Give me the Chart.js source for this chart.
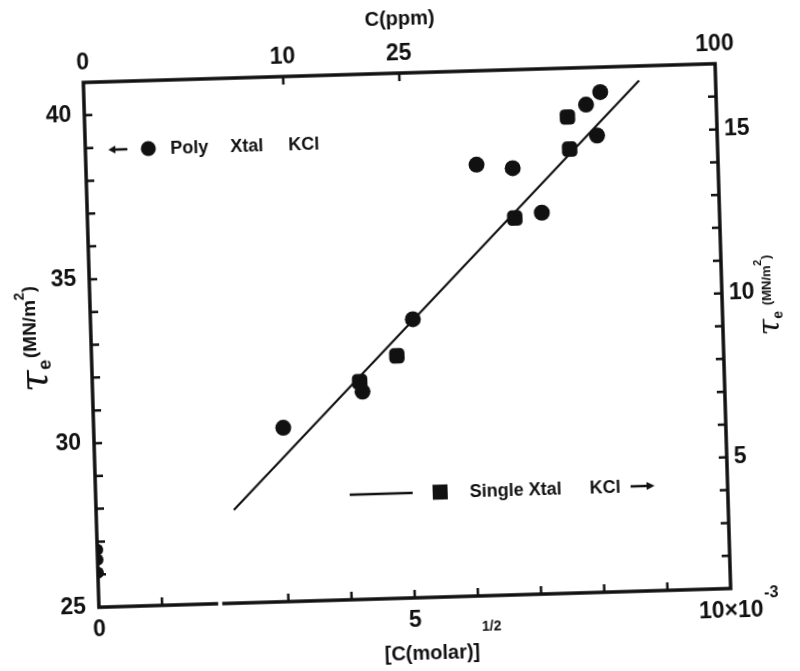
<!DOCTYPE html>
<html><head><meta charset="utf-8">
<script src="https://cdn.jsdelivr.net/npm/chart.js@4/dist/chart.umd.min.js"></script>
<style>
html,body{margin:0;padding:0;background:#fff;overflow:hidden;width:800px;height:671px}
#wrap{position:absolute;left:0;top:0;width:800px;height:671px;transform:rotate(-1.7deg);transform-origin:406.75px 335.25px}
</style></head><body>
<div id="wrap"><canvas id="c" width="800" height="671"></canvas></div>
<script>
// x: [C(molar)]^1/2 in units of 1e-3 ; left axis tau_e (MN/m^2) poly crystal ; right axis single crystal
const polyZeroX = [0, 0, 0];
const polyZeroY = [26.75, 26.45, 26.05];
const polyX = [3.00, 4.27, 5.10, 6.18, 6.75, 7.19, 7.94, 8.10, 8.17];
const polyY = [30.30, 31.33, 33.49, 38.14, 38.00, 36.62, 39.87, 38.92, 40.24];
const singleX = [4.23, 4.83, 6.76, 7.66, 7.64];
const singleY = [7.64, 8.39, 12.48, 14.53, 15.51];
const fitX = [2.18, 8.79];
const fitY = [3.84, 16.56];

const xMin = 0, xMax = 10;
const leftMin = 25, leftMax = 41;
const rightMin = 1, rightMax = 17;
const leftTickLabels = [25, 30, 35, 40];
const rightTickLabels = [5, 10, 15];
const bottomTickValues = [0, 5, 10];
const bottomTickLabels = ['0', '5', '10×10'];
const bottomExponent = '-3';
const topTickPpm = [0, 10, 25, 100];

const pts = (xs, ys) => xs.map((x, i) => ({x, y: ys[i]}));
const INK = '#111';
const FONT = 'Liberation Sans';

function rich(ctx, x, y, rot, segs) {
  ctx.save();
  ctx.translate(x, y);
  ctx.rotate(rot);
  let w = 0;
  segs.forEach(s => { ctx.font = s.font; s.w = ctx.measureText(s.t).width; w += s.w + (s.gap || 0); });
  let cx = -w / 2;
  ctx.textBaseline = 'middle';
  ctx.textAlign = 'left';
  segs.forEach(s => { ctx.font = s.font; ctx.fillText(s.t, cx, s.dy || 0); cx += s.w + (s.gap || 0); });
  ctx.restore();
}

const deco = {
  id: 'deco',
  afterDraw(chart) {
    const {ctx, chartArea: a, scales} = chart;
    const X = scales.x, Y = scales.y, Y2 = scales.y2, XT = scales.x2;
    ctx.save();
    ctx.strokeStyle = INK; ctx.fillStyle = INK;
    // frame with axis break on bottom
    ctx.lineWidth = 3.5; ctx.lineJoin = 'miter'; ctx.lineCap = 'square';
    const gL = X.getPixelForValue(1.86), gR = X.getPixelForValue(1.98);
    ctx.beginPath();
    ctx.moveTo(gL, a.bottom); ctx.lineTo(a.left, a.bottom); ctx.lineTo(a.left, a.top);
    ctx.lineTo(a.right, a.top); ctx.lineTo(a.right, a.bottom); ctx.lineTo(gR, a.bottom);
    ctx.stroke();
    // inward ticks
    ctx.lineWidth = 2.5; ctx.lineCap = 'butt';
    const T = 8;
    ctx.beginPath();
    Y.ticks.forEach(t => { if (t.value > leftMin && t.value < leftMax) { const p = Y.getPixelForValue(t.value); ctx.moveTo(a.left, p); ctx.lineTo(a.left + T, p); } });
    Y2.ticks.forEach(t => { if (t.value > rightMin && t.value < rightMax) { const p = Y2.getPixelForValue(t.value); ctx.moveTo(a.right, p); ctx.lineTo(a.right - T, p); } });
    X.ticks.forEach(t => { if (t.value > xMin && t.value < xMax && t.value !== 2) { const p = X.getPixelForValue(t.value); ctx.moveTo(p, a.bottom); ctx.lineTo(p, a.bottom - T); } });
    XT.ticks.forEach(t => { if (t.value > xMin && t.value < xMax) { const p = XT.getPixelForValue(t.value); ctx.moveTo(p, a.top); ctx.lineTo(p, a.top + T); } });
    ctx.stroke();

    // exponent of the last bottom tick label
    ctx.font = `bold 23px "${FONT}"`;
    const lastW = ctx.measureText(bottomTickLabels[bottomTickLabels.length - 1]).width;
    ctx.font = `bold 16px "${FONT}"`;
    ctx.textAlign = 'left'; ctx.textBaseline = 'middle';
    ctx.fillText(bottomExponent, X.getPixelForValue(xMax) + lastW / 2 + 1, a.bottom + 6);

    // axis titles
    ctx.textBaseline = 'middle'; ctx.textAlign = 'center';
    ctx.font = `bold 20px "${FONT}"`;
    ctx.fillText('C(ppm)', 409, 19);
    ctx.fillText('[C(molar)]', 423, 654);
    ctx.font = `bold 14px "${FONT}"`;
    ctx.fillText('1/2', 483, 629);

    rich(ctx, 36, 328, -Math.PI / 2, [
      {t: 'τ', font: `italic 40px "DejaVu Serif"`, dy: 0},
      {t: 'e', font: `bold 18px "${FONT}"`, dy: 9, gap: 2},
      {t: '(MN/m', font: `bold 19px "${FONT}"`, dy: -5},
      {t: '2', font: `bold 14px "${FONT}"`, dy: -15},
      {t: ')', font: `bold 19px "${FONT}"`, dy: -5}
    ]);
    rich(ctx, 771, 306, -Math.PI / 2, [
      {t: 'τ', font: `italic 30px "DejaVu Serif"`, dy: 0},
      {t: 'e', font: `bold 14px "${FONT}"`, dy: 8, gap: 6},
      {t: '(MN/m', font: `bold 13px "${FONT}"`, dy: -3},
      {t: '2', font: `bold 11px "${FONT}"`, dy: -11},
      {t: ')', font: `bold 13px "${FONT}"`, dy: -3}
    ]);

    // legend 1 : <- (circle) Poly Xtal KCl
    ctx.lineWidth = 2.5;
    const ly1 = 141;
    ctx.beginPath(); ctx.moveTo(133, ly1); ctx.lineTo(117, ly1); ctx.stroke();
    ctx.beginPath(); ctx.moveTo(114, ly1); ctx.lineTo(121, ly1 - 4); ctx.lineTo(121, ly1 + 4); ctx.closePath(); ctx.fill();
    ctx.beginPath(); ctx.arc(154, ly1, 7.5, 0, Math.PI * 2); ctx.fill();
    ctx.font = `bold 18px "${FONT}"`; ctx.textAlign = 'left';
    ctx.fillText('Poly', 176, ly1 + 1);
    ctx.fillText('Xtal', 236, ly1 + 1);
    ctx.fillText('KCl', 294, ly1 + 1);

    // legend 2 : ---- (square) Single Xtal KCl ->
    const ly2 = 493;
    ctx.beginPath(); ctx.moveTo(345, ly2); ctx.lineTo(408, ly2); ctx.stroke();
    ctx.fillRect(428, ly2 - 7.5, 15, 15);
    ctx.fillText('Single Xtal', 465, ly2 + 1);
    ctx.fillText('KCl', 585, ly2 + 1);
    ctx.beginPath(); ctx.moveTo(626, ly2); ctx.lineTo(642, ly2); ctx.stroke();
    ctx.beginPath(); ctx.moveTo(650, ly2); ctx.lineTo(642, ly2 - 4); ctx.lineTo(642, ly2 + 4); ctx.closePath(); ctx.fill();
    ctx.restore();
  }
};

const tickFont = {family: FONT, size: 23, weight: 'bold'};
const noGrid = {display: false, drawTicks: false};

new Chart(document.getElementById('c'), {
  type: 'scatter',
  data: {
    datasets: [
      {label: 'fit', data: pts(fitX, fitY), yAxisID: 'y2', showLine: true, borderColor: INK, borderWidth: 2.2, pointRadius: 0, fill: false},
      {label: 'Poly Xtal KCl', data: pts(polyX, polyY), yAxisID: 'y', pointStyle: 'circle', pointRadius: 8, backgroundColor: INK, borderColor: INK, borderWidth: 0},
      {label: 'Poly Xtal KCl (C=0)', data: pts(polyZeroX, polyZeroY), yAxisID: 'y', pointStyle: 'circle', pointRadius: 6, backgroundColor: INK, borderColor: INK, borderWidth: 0},
      {label: 'Single Xtal KCl', data: pts(singleX, singleY), yAxisID: 'y2', pointStyle: 'rectRounded', pointRadius: 9, backgroundColor: INK, borderColor: INK, borderWidth: 0}
    ]
  },
  options: {
    responsive: false, animation: false, devicePixelRatio: 1,
    layout: {padding: 0},
    plugins: {legend: {display: false}, tooltip: {enabled: false}},
    scales: {
      x: {type: 'linear', position: 'bottom', min: xMin, max: xMax,
        grid: noGrid, border: {display: false},
        ticks: {stepSize: 1, autoSkip: false, maxRotation: 0, padding: 9, color: INK, font: tickFont,
          callback: v => { const i = bottomTickValues.indexOf(v); return i >= 0 ? bottomTickLabels[i] : ''; }},
        afterFit: s => { s.height = 73; }},
      x2: {type: 'linear', position: 'top', min: xMin, max: xMax,
        grid: noGrid, border: {display: false},
        afterBuildTicks: s => { s.ticks = topTickPpm.map(p => ({value: Math.sqrt(p)})); },
        ticks: {autoSkip: false, maxRotation: 0, padding: 6, color: INK, font: tickFont,
          callback: (v, i) => String(topTickPpm[i])},
        afterFit: s => { s.height = 73; }},
      y: {type: 'linear', position: 'left', min: leftMin, max: leftMax,
        grid: noGrid, border: {display: false},
        ticks: {stepSize: 1, autoSkip: false, padding: 13, color: INK, font: tickFont,
          callback: v => leftTickLabels.includes(v) ? String(v) : ''},
        afterFit: s => { s.width = 91; }},
      y2: {type: 'linear', position: 'right', min: rightMin, max: rightMax,
        grid: noGrid, border: {display: false},
        ticks: {stepSize: 1, autoSkip: false, padding: 7, color: INK, font: tickFont,
          callback: v => rightTickLabels.includes(v) ? String(v) : ''},
        afterFit: s => { s.width = 77; }}
    }
  },
  plugins: [deco]
});
</script>
</body></html>
